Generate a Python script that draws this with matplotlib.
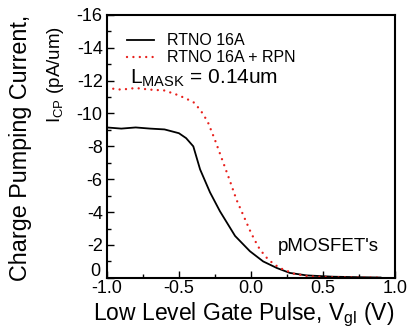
import matplotlib
matplotlib.use("Agg")
import matplotlib.pyplot as plt
from matplotlib.ticker import MultipleLocator, FuncFormatter
from matplotlib.lines import Line2D
from matplotlib.transforms import ScaledTranslation

plt.rcParams['font.family'] = ['Liberation Sans', 'DejaVu Sans']

vgl_a = [-1.0, -0.9, -0.8, -0.7, -0.6, -0.5, -0.45, -0.4, -0.353, -0.284, -0.215, -0.11, -0.007, 0.085, 0.18, 0.27, 0.386, 0.57, 0.75, 0.9]
icp_a = [-9.15, -9.08, -9.15, -9.08, -9.03, -8.8, -8.5, -8.0, -6.6, -5.2, -4.05, -2.55, -1.62, -1.0, -0.6, -0.3, -0.15, -0.07, -0.04, -0.02]

vgl_b = [-1.0, -0.9, -0.8, -0.7, -0.6, -0.5, -0.4, -0.35, -0.3, -0.25, -0.2, -0.15, -0.1, -0.05, 0.0, 0.05, 0.1, 0.15, 0.2, 0.3, 0.4, 0.5, 0.6, 0.75, 0.9]
icp_b = [-11.55, -11.45, -11.55, -11.45, -11.4, -11.1, -10.7, -10.2, -9.5, -8.4, -7.2, -6.0, -4.75, -3.75, -2.75, -1.9, -1.3, -0.9, -0.6, -0.25, -0.1, -0.05, -0.03, -0.02, -0.02]

series_labels = ["RTNO 16A", "RTNO 16A + RPN"]

RED = '#e8201c'
DOT = (0, (0.01, 2.7))

fig = plt.figure(figsize=(4.08, 3.30), dpi=100)
ax = fig.add_axes([0.262, 0.158, 0.706, 0.797])

ax.plot(vgl_a, icp_a, color='black', lw=1.3)
ax.plot(vgl_b, icp_b, color=RED, lw=1.7, linestyle=DOT, dash_capstyle='round')

ax.set_xlim(-1.0, 1.0)
ax.set_ylim(0, -16)
ax.xaxis.set_major_locator(MultipleLocator(0.5))
ax.xaxis.set_minor_locator(MultipleLocator(0.25))
ax.yaxis.set_major_locator(MultipleLocator(2))
ax.yaxis.set_minor_locator(MultipleLocator(1))
ax.xaxis.set_major_formatter(FuncFormatter(lambda v, p: f"{v:.1f}"))
ax.yaxis.set_major_formatter(FuncFormatter(lambda v, p: "0" if abs(v) < 1e-9 else f"{v:.0f}"))
ax.tick_params(which='both', direction='in', top=False, right=False, labelsize=13, width=1.0)
ax.tick_params(which='major', length=5)
ax.tick_params(which='minor', length=3)
ax.tick_params(axis='x', pad=1.5)
ax.tick_params(axis='y', pad=3)
for s in ax.spines.values():
    s.set_linewidth(1.5)

# legend
handles = [Line2D([0], [0], color='black', lw=1.3),
           Line2D([0], [0], color=RED, lw=1.7, linestyle=DOT, dash_capstyle='round')]
ax.legend(handles, series_labels, loc='upper left', bbox_to_anchor=(0.07, 0.93),
          frameon=False, fontsize=11.5, handlelength=1.7, handletextpad=0.8,
          labelspacing=0.12, borderaxespad=0, borderpad=0)

ax.text(0.08, 0.76, r"L$_{\mathregular{MASK}}$ = 0.14um", transform=ax.transAxes,
        fontsize=15, va='center', ha='left')
ax.text(0.592, 0.12, "pMOSFET's", fontsize=13.5, ha='left', va='center', transform=ax.transAxes)

fig.text(0.051, 0.553, "Charge Pumping Current,", rotation=90, fontsize=16.8, ha='center', va='center')
fig.text(0.135, 0.773, r"I$_{\mathregular{CP}}$ (pA/um)", rotation=90, fontsize=13.5, ha='center', va='center')
fig.text(0.228, 0.03, r"Low Level Gate Pulse, V$_{\mathregular{gl}}$ (V)", fontsize=16.5, ha='left', va='baseline')

# nudge the "0" y tick label up/left slightly as in the reference
fig.canvas.draw()
for t in ax.yaxis.get_major_ticks():
    if t.label1.get_text() == "0":
        t.label1.set_transform(t.label1.get_transform() + ScaledTranslation(-2/72, 6/72, fig.dpi_scale_trans))

fig.savefig("out.png", dpi=100)
